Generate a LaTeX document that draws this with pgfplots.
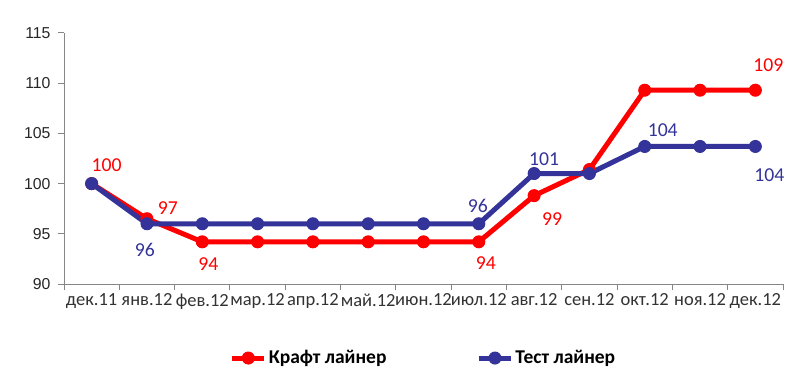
\documentclass[border=0pt]{standalone}
\usepackage{pgfplots}
\pgfplotsset{compat=1.18}
\usepackage{fontspec}
\setmainfont{Carlito}
\newfontfamily\arialf{Liberation Sans}
\definecolor{kred}{RGB}{255,0,0}
\definecolor{tblue}{RGB}{51,51,153}
\definecolor{axgray}{RGB}{134,134,134}
\definecolor{txt}{RGB}{50,50,50}
\newcommand\dl[5]{\node[text=#1,font=\fontsize{19.7}{22}\selectfont,inner sep=0pt] at (axis cs:#2,#3) [xshift=#4] {#5};}
\begin{document}
\begin{tikzpicture}[x=1pt,y=1pt]
\path[use as bounding box] (0,0) rectangle (808,383);
\begin{axis}[
 at={(64pt,99pt)}, anchor=south west,
 scale only axis, width=719pt, height=251pt,
 xmin=-0.5, xmax=12.5, ymin=90, ymax=115,
 axis x line*=bottom, axis y line*=left,
 axis line style={axgray, line width=1pt, -},
 ytick={90,95,...,115},
 xtick={-0.5,0.5,...,12.5},
 x tick label as interval,
 xticklabels={дек.11,янв.12,фев.12,мар.12,апр.12,май.12,июн.12,июл.12,авг.12,сен.12,окт.12,ноя.12,дек.12},
 tick align=outside, major tick length=6pt,
 tick style={axgray, line width=1pt},
 /pgf/number format/assume math mode=true,
 yticklabel style={font=\arialf\fontsize{15.8}{18}\selectfont, text=black!85, xshift=-4pt},
 xticklabel style={font=\fontsize{18.5}{22}\selectfont, text=txt},
 clip=false,
 legend style={at={(0.5,-0.295)}, anchor=center, draw=none, fill=none, legend columns=2,
   font=\bfseries\fontsize{19.5}{22}\selectfont, text=black,
   /tikz/every even column/.append style={column sep=88pt}},
 legend image code/.code={\draw[mark repeat=2,mark phase=2,#1] plot coordinates {(0pt,0pt)(16pt,0pt)(32pt,0pt)};},
]
\addplot[kred, line width=5pt, mark=*, mark size=6pt, mark options={solid, line width=1pt}] coordinates {
(0,100)(1,96.5)(2,94.2)(3,94.2)(4,94.2)(5,94.2)(6,94.2)(7,94.2)(8,98.8)(9,101.4)(10,109.3)(11,109.3)(12,109.3)};
\addlegendentry{Крафт лайнер}
\addplot[tblue, line width=5pt, mark=*, mark size=6pt, mark options={solid, line width=1pt}] coordinates {
(0,100)(1,96)(2,96)(3,96)(4,96)(5,96)(6,96)(7,96)(8,101)(9,101)(10,103.7)(11,103.7)(12,103.7)};
\addlegendentry{Тест лайнер}
\dl{kred}{0}{100}{15pt,yshift=18pt}{100}
\dl{kred}{1}{96.5}{21pt,yshift=11pt}{97}
\dl{kred}{2}{94.2}{6pt,yshift=-22pt}{94}
\dl{kred}{7}{94.2}{7pt,yshift=-21pt}{94}
\dl{kred}{8}{98.8}{18pt,yshift=-23pt}{99}
\dl{kred}{12}{109.3}{13pt,yshift=25pt}{109}
\dl{tblue}{1}{96}{-2pt,yshift=-26pt}{96}
\dl{tblue}{7}{96}{-1pt,yshift=18pt}{96}
\dl{tblue}{8}{101}{10pt,yshift=14pt}{101}
\dl{tblue}{10}{103.7}{18pt,yshift=16pt}{104}
\dl{tblue}{12}{103.7}{14pt,yshift=-29pt}{104}
\end{axis}
\end{tikzpicture}
\end{document}
